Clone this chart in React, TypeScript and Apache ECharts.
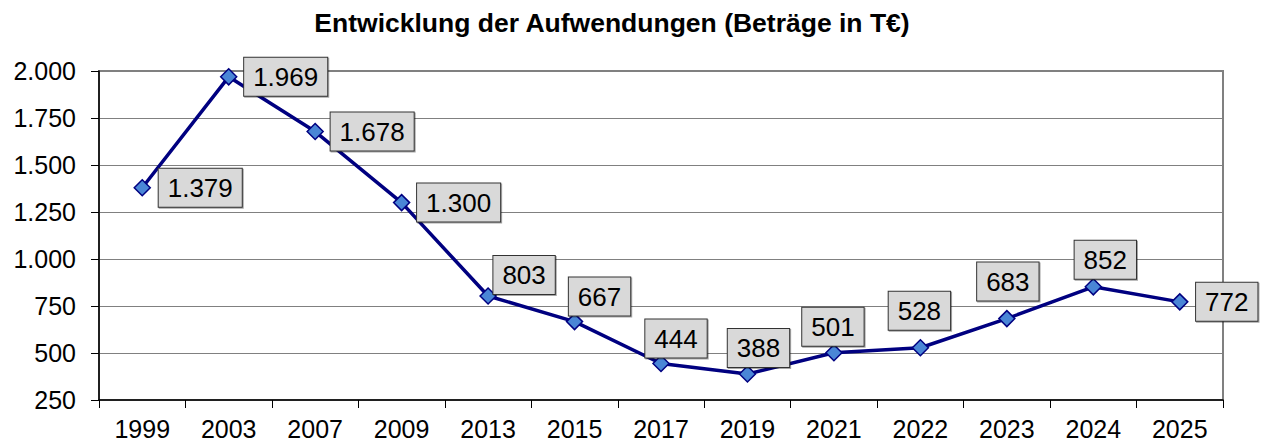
import React, { useEffect, useRef } from "react";
import * as echarts from "echarts";

const categories = ["1999", "2003", "2007", "2009", "2013", "2015", "2017", "2019", "2021", "2022", "2023", "2024", "2025"];
const values = [1379, 1969, 1678, 1300, 803, 667, 444, 388, 501, 528, 683, 852, 772];
const labelOffsets: [number, number][] = [
  [58, 0], [57, 0], [57, 0], [57, 0], [36, -21], [25, -25], [15, -25],
  [11, -26], [-1, -26], [-1, -37], [1, -37], [12, -27], [47, 0],
];
const titleText = "Entwicklung der Aufwendungen (Beträge in T€)";

const fmt = (v: number) => {
  const s = Math.round(v).toString();
  return s.replace(/\B(?=(\d{3})+(?!\d))/g, ".");
};

export default function App() {
  const ref = useRef<HTMLDivElement>(null);
  useEffect(() => {
    if (!ref.current) return;
    const chart = echarts.init(ref.current, undefined, { renderer: "svg" });
    const font = "'Liberation Sans', Arial, sans-serif";
    chart.setOption({
      animation: false,
      textStyle: { fontFamily: font },
      graphic: [
        {
          type: "text",
          x: 612,
          y: 23,
          style: {
            text: titleText,
            fontFamily: font,
            fontSize: 26.5,
            fontWeight: "bold",
            fill: "#000",
            textAlign: "center",
            textVerticalAlign: "middle",
          },
        },
      ],
      grid: {
        left: 99, right: 40, top: 71, bottom: 43,
        show: true, borderColor: "#808080", borderWidth: 2, backgroundColor: "transparent",
      },
      xAxis: {
        type: "category",
        data: categories,
        boundaryGap: true,
        axisLine: { lineStyle: { color: "#000", width: 1.5 } },
        axisTick: { show: true, length: 8, lineStyle: { color: "#000" } },
        axisLabel: { fontFamily: font, fontSize: 25, color: "#000", margin: 16 },
      },
      yAxis: {
        type: "value",
        min: 250,
        max: 2000,
        interval: 250,
        axisLine: { show: true, lineStyle: { color: "#000", width: 1.5 } },
        axisTick: { show: true, length: 8, lineStyle: { color: "#000" } },
        axisLabel: { fontFamily: font, fontSize: 25, color: "#000", margin: 23, formatter: (v: number) => fmt(v) },
        splitLine: { show: true, lineStyle: { color: "#808080", width: 1 } },
      },
      series: [
        {
          type: "line",
          data: values.map((v, i) => ({
            value: v,
            label: { offset: labelOffsets[i] },
          })),
          lineStyle: { color: "#000080", width: 3.5 },
          symbol: "diamond",
          symbolSize: 16,
          itemStyle: { color: "#4a86d6", borderColor: "#000080", borderWidth: 1.5 },
          label: {
            show: true,
            position: "inside",
            formatter: (p: any) => fmt(p.value),
            fontFamily: font,
            fontSize: 26,
            lineHeight: 26,
            color: "#000",
            backgroundColor: "#d9d9d9",
            borderColor: "#333",
            borderWidth: 1,
            padding: [6, 9, 6, 9],
            shadowColor: "rgba(0,0,0,0.35)",
            shadowOffsetX: 1,
            shadowOffsetY: 1,
            shadowBlur: 0,
          },
          z: 3,
        },
      ],
    });
    return () => chart.dispose();
  }, []);
  return <div ref={ref} style={{ width: 1263, height: 443, position: "absolute", left: 0, top: 0 }} />;
}
